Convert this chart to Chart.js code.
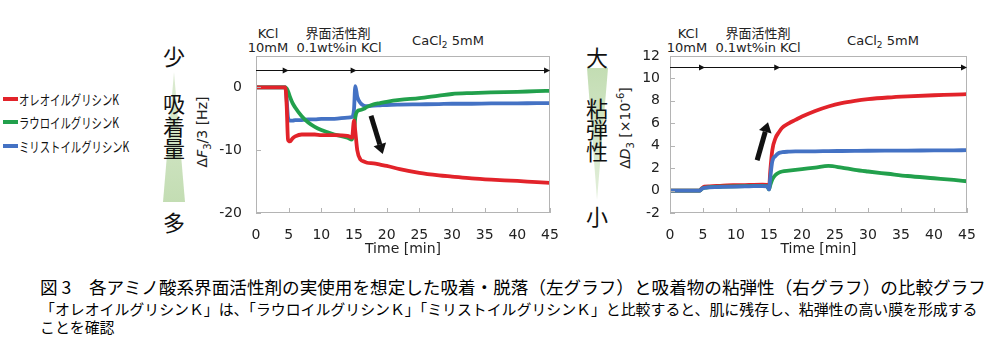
<!DOCTYPE html>
<html><head><meta charset="utf-8">
<script src="https://cdn.jsdelivr.net/npm/chart.js@4/dist/chart.umd.min.js"></script>
<style>
html,body{margin:0;padding:0;background:#fff;}
body{width:999px;height:346px;overflow:hidden;position:relative;font-family:"DejaVu Sans",sans-serif;color:#111;}
.a{position:absolute;white-space:nowrap;line-height:1;}
.c{transform:translate(-50%,-50%);}
.lab{font-size:13px;color:#222;}
.jp{font-family:"Noto Sans CJK JP",sans-serif;}
.big{font-family:"Noto Sans CJK JP",sans-serif;font-size:22px;color:#111;}
.leg{font-family:"Noto Sans CJK JP",sans-serif;font-size:14px;color:#111;transform-origin:left center;transform:translateY(-50%) scaleX(0.74);}
.sw{position:absolute;width:15px;height:4px;}
.ytitle{font-size:14px;color:#222;transform:translate(-50%,-50%) rotate(-90deg);}
.cap1{font-family:"Noto Sans CJK JP",sans-serif;font-size:17.6px;color:#000;}
.cap2{font-family:"Noto Sans CJK JP",sans-serif;font-size:14.9px;color:#000;}
</style>
</head><body>

<!-- legend -->
<div class="sw" style="left:3px;top:97px;background:#e2232a"></div>
<div class="a leg" style="left:19px;top:99px">オレオイルグリシンK</div>
<div class="sw" style="left:3px;top:120px;background:#22a04c"></div>
<div class="a leg" style="left:19px;top:122px">ラウロイルグリシンK</div>
<div class="sw" style="left:3px;top:144px;background:#4472c4"></div>
<div class="a leg" style="left:19px;top:146px">ミリストイルグリシンK</div>

<!-- left side indicator -->
<svg class="a" style="left:160px;top:68px" width="30" height="140">
  <defs><linearGradient id="gL" x1="0" y1="0" x2="0" y2="1"><stop offset="0" stop-color="#dcebd2"/><stop offset="1" stop-color="#c3ddb3"/></linearGradient></defs>
  <polygon points="14,4 25,134 3,134" fill="url(#gL)"/>
</svg>
<div class="a c big" style="left:174px;top:55px">少</div>
<div class="a c big" style="left:174px;top:102px">吸</div>
<div class="a c big" style="left:174px;top:125px">着</div>
<div class="a c big" style="left:174px;top:147px">量</div>
<div class="a c big" style="left:174px;top:221px">多</div>
<div class="a ytitle" style="left:204px;top:132px">Δ<i>F</i><sub style="font-size:10px">3</sub>/3 [Hz]</div>

<!-- right side indicator -->
<svg class="a" style="left:584px;top:66px" width="30" height="140">
  <defs><linearGradient id="gR" x1="0" y1="0" x2="0" y2="1"><stop offset="0" stop-color="#c3ddb3"/><stop offset="1" stop-color="#e3efdb"/></linearGradient></defs>
  <polygon points="3,2 24,2 13,134" fill="url(#gR)"/>
</svg>
<div class="a c big" style="left:597px;top:56px">大</div>
<div class="a c big" style="left:597px;top:107px">粘</div>
<div class="a c big" style="left:597px;top:128px">弾</div>
<div class="a c big" style="left:597px;top:150px">性</div>
<div class="a c big" style="left:597px;top:215px">小</div>
<div class="a ytitle" style="left:626px;top:128px">Δ<i>D</i><sub style="font-size:10px">3</sub> [×10<sup style="font-size:10px">-6</sup>]</div>

<!-- top labels left -->
<div class="a c lab" style="left:268px;top:33px">KCl</div>
<div class="a c lab" style="left:268px;top:47px">10mM</div>
<div class="a c lab jp" style="left:338px;top:32px">界面活性剤</div>
<div class="a c lab" style="left:339px;top:47px">0.1wt%in KCl</div>
<div class="a c lab" style="left:448px;top:42px">CaCl<sub style="font-size:9px">2</sub> 5mM</div>
<!-- top labels right -->
<div class="a c lab" style="left:688px;top:33px">KCl</div>
<div class="a c lab" style="left:687px;top:47px">10mM</div>
<div class="a c lab jp" style="left:758px;top:32px">界面活性剤</div>
<div class="a c lab" style="left:758px;top:47px">0.1wt%in KCl</div>
<div class="a c lab" style="left:883px;top:42px">CaCl<sub style="font-size:9px">2</sub> 5mM</div>

<div class="a" style="left:190px;top:0px;width:370px;height:260px"><canvas id="cL" width="370" height="260"></canvas></div>
<div class="a" style="left:580px;top:0px;width:419px;height:260px"><canvas id="cR" width="419" height="260"></canvas></div>

<!-- caption -->
<div class="a cap1" style="left:40px;top:278px">図 3　各アミノ酸系界面活性剤の実使用を想定した吸着・脱落（左グラフ）と吸着物の粘弾性（右グラフ）の比較グラフ</div>
<div class="a cap2" style="left:40px;top:302px">「オレオイルグリシンＫ」は、「ラウロイルグリシンＫ」「ミリストイルグリシンＫ」と比較すると、肌に残存し、粘弾性の高い膜を形成する</div>
<div class="a cap2" style="left:40px;top:320px">ことを確認</div>

<script>
// ---------- data ----------
const seriesNames = ["オレオイルグリシンK", "ラウロイルグリシンK", "ミリストイルグリシンK"];
const xTicks = [0, 5, 10, 15, 20, 25, 30, 35, 40, 45];
const yTicksLeft = [-20, -10, 0];
const yTicksRight = [-2, 0, 2, 4, 6, 8, 10, 12];

// Left: ΔF3/3 [Hz]
const timeLeft = [0, 4.5, 4.7, 4.9, 5.2, 5.6, 6, 7, 8, 9, 10, 12, 14, 14.7, 15.0, 15.2, 15.5, 16, 16.5, 17, 18, 19, 20, 22, 25, 28, 30, 33, 36, 40, 43, 45];
const oleoylLeft = [0, 0, -3.0, -8.3, -8.6, -8.1, -7.8, -7.5, -7.5, -7.5, -7.6, -7.6, -7.7, -8.0, -5.3, -7.0, -10.0, -11.5, -11.8, -12.0, -12.1, -12.3, -12.5, -13.0, -13.6, -14.0, -14.2, -14.5, -14.7, -14.9, -15.1, -15.2];
const lauroylLeft = [0, 0, -0.2, -0.6, -1.5, -2.5, -3.2, -4.6, -5.6, -6.3, -6.8, -7.5, -8.0, -8.3, -7.0, -4.8, -3.8, -3.6, -3.4, -3.1, -2.7, -2.5, -2.3, -2.0, -1.7, -1.3, -1.05, -0.9, -0.8, -0.7, -0.6, -0.55];
const myristoylLeft = [0, 0, -2.0, -4.8, -5.3, -5.3, -5.2, -5.2, -5.1, -5.1, -5.0, -5.0, -4.8, -4.7, -3.5, 0.2, -1.5, -2.5, -2.9, -3.0, -2.9, -2.85, -2.8, -2.75, -2.7, -2.65, -2.6, -2.6, -2.55, -2.55, -2.5, -2.5];

// Right: ΔD3 [×10^-6]
const timeRight = [0, 4.5, 4.8, 5.2, 6, 8, 10, 12, 14, 14.7, 15.0, 15.2, 15.5, 16, 16.5, 17, 18, 19, 20, 22, 24, 26, 28, 30, 33, 36, 40, 43, 45];
const oleoylRight = [0, 0, 0.2, 0.35, 0.38, 0.45, 0.48, 0.5, 0.52, 0.5, 0.2, 1.8, 3.6, 4.7, 5.2, 5.6, 6.0, 6.3, 6.6, 7.1, 7.5, 7.8, 8.0, 8.15, 8.3, 8.4, 8.5, 8.55, 8.6];
const lauroylRight = [0, 0, 0.15, 0.25, 0.3, 0.35, 0.38, 0.4, 0.42, 0.4, 0.1, 0.5, 1.0, 1.4, 1.6, 1.7, 1.78, 1.85, 1.92, 2.05, 2.2, 2.05, 1.85, 1.7, 1.5, 1.3, 1.1, 0.95, 0.83];
const myristoylRight = [0, 0, 0.15, 0.25, 0.28, 0.33, 0.36, 0.38, 0.4, 0.38, 0.1, 1.2, 2.6, 3.1, 3.35, 3.42, 3.47, 3.5, 3.5, 3.5, 3.52, 3.53, 3.54, 3.55, 3.56, 3.57, 3.58, 3.59, 3.6];

// annotations (data units)
const timelineLeftY = 2.8;
const timelineLeftArrows = [4.7, 15.1, 44.7];
const timelineRightY = 11;
const timelineRightArrows = [5.0, 16.4, 44.7];
const bigArrowLeft = [17.6, -4.5, 19.4, -10.6];   // x0,y0 -> x1,y1 (tip)
const bigArrowRight = [13.2, 2.7, 14.85, 6.1];

const colors = ["#e2232a", "#22a04c", "#4472c4"];

// ---------- helpers ----------
function pts(xs, ys) { return xs.map((x, i) => ({x: x, y: ys[i]})); }

const overlay = {
  id: 'overlay',
  afterDatasetsDraw(chart, args, o) {
    const ctx = chart.ctx, a = chart.chartArea, xs = chart.scales.x, ys = chart.scales.y;
    ctx.save();
    ctx.strokeStyle = '#b4b4b4'; ctx.lineWidth = 1;
    ctx.strokeRect(Math.round(a.left) + 0.5, Math.round(a.top) + 0.5, Math.round(a.right - a.left) - 1, Math.round(a.bottom - a.top) - 1);
    ctx.beginPath();
    xTicks.forEach(v => { const px = Math.round(xs.getPixelForValue(v)) + 0.5; ctx.moveTo(px, a.bottom); ctx.lineTo(px, a.bottom - 5); });
    o.yt.forEach(v => { const py = Math.round(ys.getPixelForValue(v)) + 0.5; ctx.moveTo(a.left, py); ctx.lineTo(a.left + 5, py); });
    ctx.stroke();
    const ty = Math.round(ys.getPixelForValue(o.ty)) + 0.5;
    ctx.strokeStyle = '#111'; ctx.fillStyle = '#111'; ctx.lineWidth = 1;
    ctx.beginPath(); ctx.moveTo(a.left, ty); ctx.lineTo(xs.getPixelForValue(o.tarrows[o.tarrows.length - 1]), ty); ctx.stroke();
    o.tarrows.forEach(v => {
      const px = xs.getPixelForValue(v);
      ctx.beginPath(); ctx.moveTo(px + 2, ty); ctx.lineTo(px - 4, ty - 3); ctx.lineTo(px - 4, ty + 3); ctx.closePath(); ctx.fill();
    });
    const b = o.big;
    const x0 = xs.getPixelForValue(b[0]), y0 = ys.getPixelForValue(b[1]);
    const x1 = xs.getPixelForValue(b[2]), y1 = ys.getPixelForValue(b[3]);
    const ang = Math.atan2(y1 - y0, x1 - x0);
    const hl = 10, hw = 6.5;
    const bx = x1 - hl * Math.cos(ang), by = y1 - hl * Math.sin(ang);
    ctx.lineWidth = 5; ctx.lineCap = 'butt';
    ctx.beginPath(); ctx.moveTo(x0, y0); ctx.lineTo(bx, by); ctx.stroke();
    ctx.beginPath();
    ctx.moveTo(x1, y1);
    ctx.lineTo(bx + hw * Math.sin(ang), by - hw * Math.cos(ang));
    ctx.lineTo(bx - hw * Math.sin(ang), by + hw * Math.cos(ang));
    ctx.closePath(); ctx.fill();
    ctx.restore();
  }
};

function makeChart(id, datasets, ymin, ymax, yt, yAxisWidth, padRight, labelPad, ov) {
  return new Chart(document.getElementById(id), {
    type: 'line',
    data: { datasets: datasets },
    options: {
      responsive: false, animation: false,
      layout: { padding: { top: 56, right: padRight, left: 0, bottom: 0 } },
      plugins: { legend: { display: false }, tooltip: { enabled: false }, overlay: ov },
      elements: { point: { radius: 0 }, line: { borderWidth: 3.8, cubicInterpolationMode: 'monotone', borderCapStyle: 'round', borderJoinStyle: 'round' } },
      scales: {
        x: {
          type: 'linear', min: 0, max: 45,
          afterBuildTicks: s => { s.ticks = xTicks.map(v => ({value: v})); },
          afterFit: s => { s.height = 47; s.paddingLeft = 0; s.paddingRight = 0; },
          grid: { display: false, drawTicks: false },
          border: { display: false },
          ticks: { padding: 14, color: '#222', font: { family: 'DejaVu Sans', size: 14 }, maxRotation: 0 },
          title: { display: true, text: 'Time [min]', color: '#222', font: { family: 'DejaVu Sans', size: 14 }, padding: { top: 0, bottom: 2 } }
        },
        y: {
          type: 'linear', min: ymin, max: ymax,
          afterBuildTicks: s => { s.ticks = yt.map(v => ({value: v})); },
          afterFit: s => { s.width = yAxisWidth; s.paddingTop = 0; s.paddingBottom = 0; },
          grid: { display: false, drawTicks: false },
          border: { display: false },
          ticks: { padding: labelPad, color: '#222', font: { family: 'DejaVu Sans', size: 14 } }
        }
      }
    },
    plugins: [overlay]
  });
}

makeChart('cL', [
  { label: seriesNames[0], data: pts(timeLeft, oleoylLeft), borderColor: colors[0] },
  { label: seriesNames[1], data: pts(timeLeft, lauroylLeft), borderColor: colors[1] },
  { label: seriesNames[2], data: pts(timeLeft, myristoylLeft), borderColor: colors[2] }
], -20, 5, yTicksLeft, 66, 10, 14, { yt: yTicksLeft, ty: timelineLeftY, tarrows: timelineLeftArrows, big: bigArrowLeft });

makeChart('cR', [
  { label: seriesNames[2], data: pts(timeRight, myristoylRight), borderColor: colors[2] },
  { label: seriesNames[1], data: pts(timeRight, lauroylRight), borderColor: colors[1] },
  { label: seriesNames[0], data: pts(timeRight, oleoylRight), borderColor: colors[0] }
], -2, 12, yTicksRight, 90, 32, 10, { yt: yTicksRight, ty: timelineRightY, tarrows: timelineRightArrows, big: bigArrowRight });
</script>
</body></html>
